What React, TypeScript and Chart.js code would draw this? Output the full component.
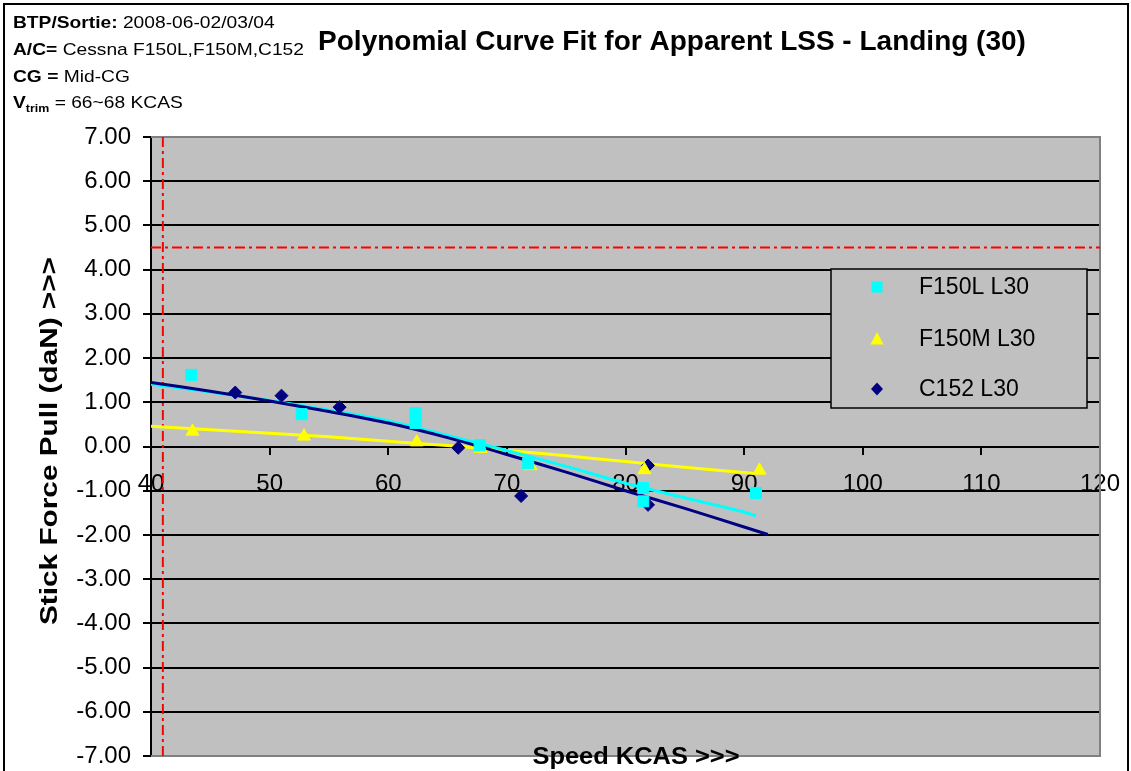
import React, { useEffect, useRef } from 'react';
import { Chart, registerables } from 'chart.js';

Chart.register(...registerables);

// ---- Data ----
const seriesNames = ['F150L L30', 'F150M L30', 'C152 L30'];

const speedF150L = [43.4, 52.7, 62.3, 62.3, 67.7, 71.8, 81.5, 81.5, 91.0];
const forceF150L = [1.62, 0.73, 0.75, 0.53, 0.03, -0.38, -0.94, -1.24, -1.05];

const speedF150M = [43.5, 52.9, 62.4, 67.8, 72.0, 81.6, 91.3];
const forceF150M = [0.34, 0.23, 0.10, -0.05, -0.44, -0.53, -0.54];

const speedC152 = [47.1, 51.0, 55.9, 65.9, 71.2, 81.9, 81.9];
const forceC152 = [1.22, 1.15, 0.89, -0.03, -1.12, -0.43, -1.32];

// polynomial trend lines
const trendSpeedF150L = [40, 45, 50, 55, 60, 65, 70, 75, 80, 85, 90, 91];
const trendForceF150L = [1.41, 1.23, 1.04, 0.82, 0.58, 0.25, -0.09, -0.45, -0.83, -1.16, -1.48, -1.57];

const trendSpeedF150M = [40, 45, 50, 55, 60, 65, 70, 75, 80, 85, 90, 90.8];
const trendForceF150M = [0.46, 0.38, 0.30, 0.22, 0.12, 0.02, -0.09, -0.21, -0.34, -0.47, -0.59, -0.61];

const trendSpeedC152 = [40, 45, 50, 55, 60, 65, 70, 75, 80, 85, 90, 92];
const trendForceC152 = [1.45, 1.25, 1.03, 0.79, 0.53, 0.20, -0.18, -0.58, -1.00, -1.40, -1.82, -1.99];

// limit lines
const limitSpeed = [41];
const limitForce = [4.5];

// axes
const xRange = [40, 120];
const xStep = 10;
const yRange = [-7, 7];
const yStep = 1;

const titleText = 'Polynomial Curve Fit for Apparent LSS - Landing (30)';
const xTitle = 'Speed KCAS >>>';
const yTitle = 'Stick Force Pull (daN) >>>';
const infoLines = [
  [['BTP/Sortie:', true], [' 2008-06-02/03/04', false]],
  [['A/C=', true], [' Cessna F150L,F150M,C152', false]],
  [['CG =', true], [' Mid-CG', false]],
];
const vtrimText = ' = 66~68 KCAS';

const colors = ['#00FFFF', '#FFFF00', '#000080'];
const markerStyles = ['rect', 'triangle', 'rectRot'];

const FONT = '"Liberation Sans", Arial, sans-serif';

const zip = (xs: number[], ys: number[]) => xs.map((x, i) => ({ x, y: ys[i] }));

function drawMarker(ctx: CanvasRenderingContext2D, style: string, x: number, y: number, color: string) {
  ctx.fillStyle = color;
  ctx.beginPath();
  if (style === 'rect') {
    ctx.rect(x - 5.5, y - 5.5, 11, 11);
  } else if (style === 'triangle') {
    ctx.moveTo(x, y - 7);
    ctx.lineTo(x + 6.5, y + 5.5);
    ctx.lineTo(x - 6.5, y + 5.5);
  } else {
    ctx.moveTo(x, y - 6.5);
    ctx.lineTo(x + 6, y);
    ctx.lineTo(x, y + 6.5);
    ctx.lineTo(x - 6, y);
  }
  ctx.closePath();
  ctx.fill();
}

const decorPlugin = {
  id: 'decor',
  beforeDraw(chart: any) {
    const { ctx, chartArea: a } = chart;
    ctx.save();
    ctx.fillStyle = '#FFFFFF';
    ctx.fillRect(0, 0, chart.width, chart.height);
    ctx.fillStyle = '#C0C0C0';
    ctx.fillRect(a.left, a.top, a.right - a.left, a.bottom - a.top);
    ctx.restore();
  },
  beforeDatasetsDraw(chart: any) {
    const { ctx, chartArea: a } = chart;
    ctx.save();
    ctx.strokeStyle = '#808080';
    ctx.lineWidth = 2;
    ctx.beginPath();
    ctx.moveTo(a.left, a.top);
    ctx.lineTo(a.right, a.top);
    ctx.lineTo(a.right, a.bottom);
    ctx.lineTo(a.left, a.bottom);
    ctx.stroke();
    ctx.restore();
  },
  afterDraw(chart: any) {
    const { ctx } = chart;
    ctx.save();
    // outer frame
    ctx.strokeStyle = '#000';
    ctx.lineWidth = 2;
    ctx.strokeRect(4, 4, 1124, 780);

    // title
    ctx.fillStyle = '#000';
    ctx.textAlign = 'center';
    ctx.textBaseline = 'alphabetic';
    ctx.font = `bold 28px ${FONT}`;
    ctx.fillText(titleText, 672, 50);

    // info block (stretched horizontally like the original)
    const sx = 1.13;
    const drawRuns = (runs: any[], x0: number, base: number) => {
      ctx.save();
      ctx.translate(x0, base);
      ctx.scale(sx, 1);
      ctx.textAlign = 'left';
      let x = 0;
      for (const [t, b] of runs) {
        ctx.font = `${b ? 'bold ' : ''}17px ${FONT}`;
        ctx.fillText(t, x, 0);
        x += ctx.measureText(t).width;
      }
      ctx.restore();
    };
    const bases = [28, 55, 82];
    infoLines.forEach((runs, i) => drawRuns(runs, 13, bases[i]));
    // V_trim line
    ctx.save();
    ctx.translate(13, 108);
    ctx.scale(sx, 1);
    ctx.textAlign = 'left';
    ctx.font = `bold 17px ${FONT}`;
    ctx.fillText('V', 0, 0);
    let vx = ctx.measureText('V').width;
    ctx.font = `bold 11px ${FONT}`;
    ctx.fillText('trim', vx, 4);
    vx += ctx.measureText('trim').width;
    ctx.font = `17px ${FONT}`;
    ctx.fillText(vtrimText, vx, 0);
    ctx.restore();

    // axis titles (stretched along the text like the original)
    ctx.font = `bold 24px ${FONT}`;
    ctx.textAlign = 'center';
    ctx.textBaseline = 'middle';
    ctx.save();
    ctx.translate(636, 757);
    ctx.scale(1.06, 1);
    ctx.fillText(xTitle, 0, 0);
    ctx.restore();
    ctx.save();
    ctx.translate(50, 441);
    ctx.rotate(-Math.PI / 2);
    ctx.scale(1.24, 1);
    ctx.fillText(yTitle, 0, 0);
    ctx.restore();

    // legend
    const lx = 831, ly = 269, lw = 256, lh = 139;
    ctx.fillStyle = '#C0C0C0';
    ctx.fillRect(lx, ly, lw, lh);
    ctx.strokeStyle = '#000';
    ctx.lineWidth = 1.5;
    ctx.strokeRect(lx, ly, lw, lh);
    const rows = [287, 339, 389];
    seriesNames.forEach((name, i) => {
      drawMarker(ctx, markerStyles[i], 877, rows[i], colors[i]);
      ctx.fillStyle = '#000';
      ctx.font = `23px ${FONT}`;
      ctx.textAlign = 'left';
      ctx.textBaseline = 'middle';
      ctx.fillText(name, 919, rows[i] + 1);
    });
    ctx.restore();
  },
};

export default function App() {
  const ref = useRef<HTMLCanvasElement | null>(null);

  useEffect(() => {
    document.body.style.margin = '0';
    if (!ref.current) return;
    const scatterDs = (i: number, xs: number[], ys: number[], r: number) => ({
      label: seriesNames[i],
      data: zip(xs, ys),
      showLine: false,
      pointStyle: markerStyles[i],
      pointRadius: r,
      pointBackgroundColor: colors[i],
      pointBorderColor: colors[i],
      pointBorderWidth: 1,
      order: 1,
    });
    const trendDs = (i: number, xs: number[], ys: number[], order: number) => ({
      label: seriesNames[i] + ' trend',
      data: zip(xs, ys),
      showLine: true,
      borderColor: colors[i],
      borderWidth: 3,
      pointRadius: 0,
      tension: 0.3,
      order,
    });
    const chart = new Chart(ref.current, {
      type: 'scatter',
      data: {
        datasets: [
          scatterDs(0, speedF150L, forceF150L, 7.8) as any,
          scatterDs(1, speedF150M, forceF150M, 7.5),
          scatterDs(2, speedC152, forceC152, 6.5),
          trendDs(0, trendSpeedF150L, trendForceF150L, 6),
          trendDs(1, trendSpeedF150M, trendForceF150M, 6),
          trendDs(2, trendSpeedC152, trendForceC152, 5),
          {
            label: 'limit speed',
            data: [{ x: limitSpeed[0], y: yRange[0] }, { x: limitSpeed[0], y: yRange[1] }],
            showLine: true,
            borderColor: '#FF0000',
            borderWidth: 2,
            borderDash: [10, 4, 3, 4],
            pointRadius: 0,
            order: 9,
          },
          {
            label: 'limit force',
            data: [{ x: xRange[0], y: limitForce[0] }, { x: xRange[1], y: limitForce[0] }],
            showLine: true,
            borderColor: '#FF0000',
            borderWidth: 2,
            borderDash: [10, 4, 3, 4],
            pointRadius: 0,
            order: 9,
          },
        ],
      },
      options: {
        animation: false,
        responsive: false,
        devicePixelRatio: 1,
        layout: { padding: { left: 0, top: 137, right: 31, bottom: 15 } },
        plugins: {
          legend: { display: false },
          tooltip: { enabled: false },
          title: { display: false },
        },
        scales: {
          x: {
            type: 'linear',
            min: xRange[0],
            max: xRange[1],
            position: { y: 0 } as any,
            afterFit: (s: any) => { s.paddingLeft = 0; s.paddingRight = 0; s.paddingTop = 0; s.paddingBottom = 0; },
            ticks: {
              stepSize: xStep,
              color: '#000',
              font: { family: FONT, size: 24 },
              padding: 16,
              maxRotation: 0,
            },
            grid: {
              drawOnChartArea: false,
              drawTicks: true,
              tickLength: 7,
              tickColor: '#000',
              lineWidth: 2,
            },
            border: { display: true, color: '#000', width: 2 },
          },
          y: {
            type: 'linear',
            min: yRange[0],
            max: yRange[1],
            afterFit: (s: any) => { s.width = 151; s.paddingTop = 0; s.paddingBottom = 0; },
            ticks: {
              stepSize: yStep,
              color: '#000',
              font: { family: FONT, size: 24 },
              padding: 12,
              callback: (v: any) => Number(v).toFixed(2),
            },
            grid: {
              color: (c: any) => (c.tick && Math.abs(c.tick.value) === 7 ? 'rgba(0,0,0,0)' : '#000'),
              tickColor: '#000',
              tickLength: 8,
              lineWidth: 2,
            },
            border: { display: true, color: '#000', width: 2 },
          },
        },
      },
      plugins: [decorPlugin],
    });
    return () => chart.destroy();
  }, []);

  return <canvas ref={ref} width={1131} height={771} style={{ display: 'block' }} />;
}
